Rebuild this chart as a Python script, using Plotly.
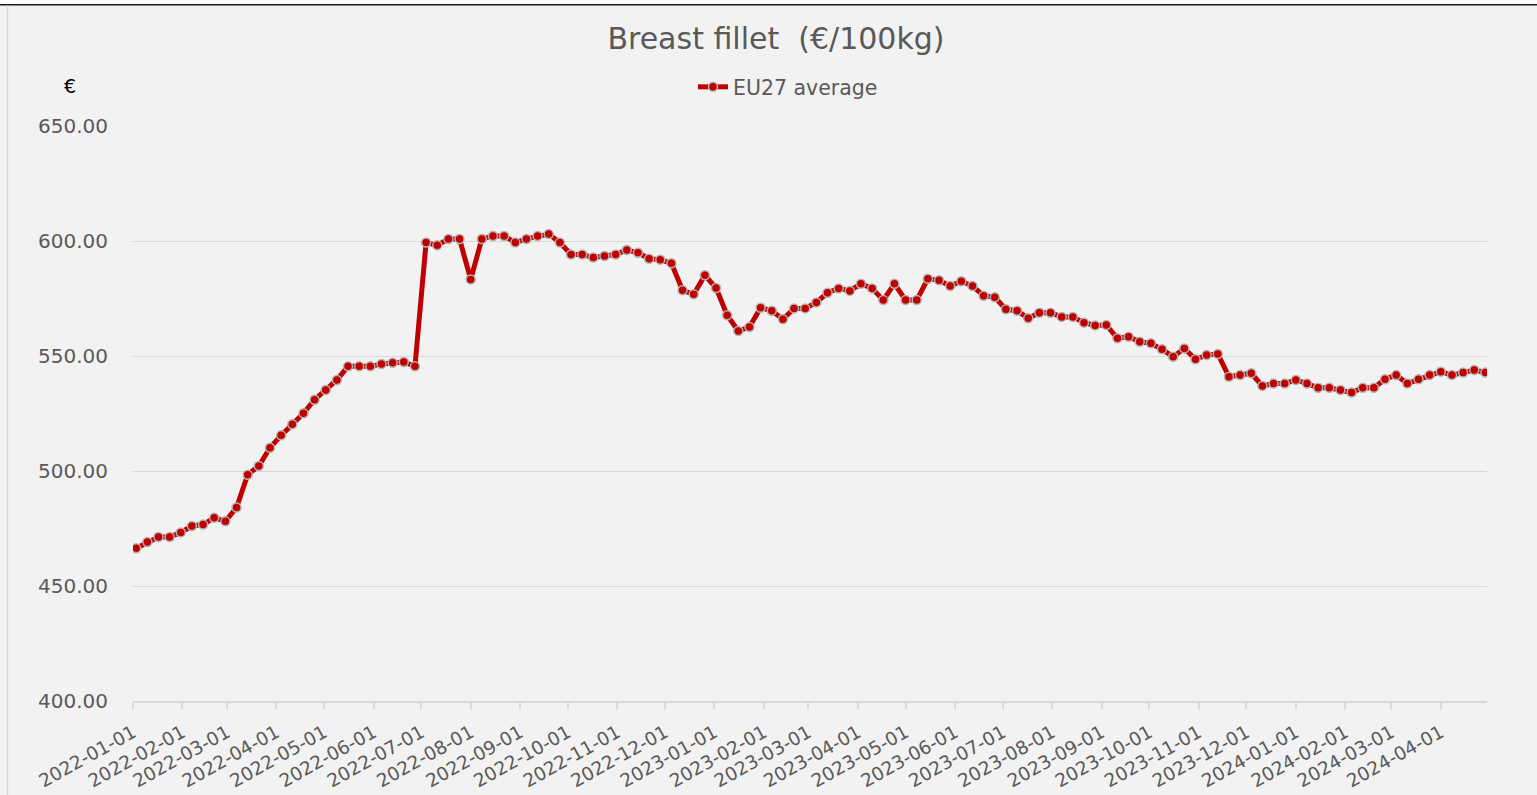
import pandas as pd
import plotly.graph_objects as go

# ---- data ----
week_start = "2022-01-03"
n_weeks = 122
eu27_average = [
    466.4, 469.1, 471.3, 471.3, 473.3, 476.1, 476.7, 479.7, 478.1, 484.1,
    498.4, 502.2, 510.1, 515.5, 520.3, 525.1, 531.0, 535.2, 539.6, 545.5,
    545.5, 545.5, 546.5, 547.1, 547.4, 545.5, 599.3, 598.1, 600.9, 600.9,
    583.3, 600.9, 602.2, 602.2, 599.3, 600.9, 602.2, 603.0, 599.3, 594.1,
    594.1, 592.8, 593.5, 594.1, 596.1, 594.9, 592.3, 591.9, 590.3, 578.6,
    576.8, 585.1, 579.6, 567.7, 560.9, 562.6, 571.0, 569.7, 566.0, 570.7,
    570.7, 573.3, 577.5, 579.4, 578.3, 581.4, 579.4, 574.3, 581.4, 574.3,
    574.3, 583.6, 582.9, 580.4, 582.5, 580.4, 576.2, 575.5, 570.3, 569.7,
    566.4, 568.8, 568.8, 567.0, 567.0, 564.5, 563.3, 563.5, 557.7, 558.4,
    556.2, 555.5, 552.9, 549.7, 553.3, 548.6, 550.4, 550.9, 541.0, 541.7,
    542.5, 537.0, 538.0, 538.0, 539.6, 538.0, 536.2, 536.2, 535.2, 534.1,
    536.2, 536.2, 539.9, 541.7, 538.0, 539.9, 541.7, 543.2, 541.7, 542.8,
    543.9, 542.8,
]
weeks = pd.date_range(week_start, periods=n_weeks, freq="7D")

month_ticks = [
    "2022-01-01", "2022-02-01", "2022-03-01", "2022-04-01", "2022-05-01",
    "2022-06-01", "2022-07-01", "2022-08-01", "2022-09-01", "2022-10-01",
    "2022-11-01", "2022-12-01", "2023-01-01", "2023-02-01", "2023-03-01",
    "2023-04-01", "2023-05-01", "2023-06-01", "2023-07-01", "2023-08-01",
    "2023-09-01", "2023-10-01", "2023-11-01", "2023-12-01", "2024-01-01",
    "2024-02-01", "2024-03-01", "2024-04-01",
]
y_ticks = [400, 450, 500, 550, 600, 650]

# ---- layout constants ----
W, H = 1537, 795
ML, MR, MT, MB = 133, 50, 126, 94
PW, PH = W - ML - MR, H - MT - MB


def px_x(x):
    return (x - ML) / PW


def px_y(y):
    return (H - MB - y) / PH


RED = "#C00000"
GRID = "#D9D9D9"
TXT = "#595959"
FONT = "DejaVu Sans"

fig = go.Figure()
fig.add_trace(go.Scatter(
    x=weeks, y=eu27_average, name="EU27 average",
    mode="lines+markers",
    line=dict(color=RED, width=5),
    marker=dict(symbol="circle", size=9, color=RED,
                line=dict(color="#B4B4B4", width=1.5)),
))

fig.update_layout(
    width=W, height=H,
    margin=dict(l=ML, r=MR, t=MT, b=MB, autoexpand=False),
    paper_bgcolor="#F2F2F2", plot_bgcolor="#F2F2F2",
    font=dict(family=FONT, color=TXT),
    title=dict(text="Breast fillet  (€/100kg)", x=776 / W, xanchor="center",
               xref="container", y=1 - 38 / H, yanchor="middle", yref="container",
               font=dict(size=30, color=TXT, family=FONT)),
    showlegend=True,
    legend=dict(orientation="h", x=px_x(788), xanchor="center",
                y=px_y(87), yanchor="middle", bgcolor="rgba(0,0,0,0)",
                font=dict(size=20.5, color=TXT, family=FONT), itemwidth=30),
    hovermode=False,
)

fig.update_xaxes(
    type="date", range=["2022-01-01", "2024-04-30"],
    tickmode="array", tickvals=month_ticks, ticktext=month_ticks,
    tickangle=-29, tickfont=dict(size=18.5, color=TXT, family=FONT),
    showgrid=False, showline=True, linecolor=GRID, linewidth=1.5,
    ticks="outside", ticklen=6, tickcolor=GRID, tickwidth=1.5,
    ticklabelstandoff=6,
    zeroline=False, fixedrange=True,
)
fig.update_yaxes(
    range=[400, 650], tickmode="array", tickvals=y_ticks, tickformat=".2f",
    tickfont=dict(size=20, color=TXT, family=FONT),
    showgrid=True, gridcolor=GRID, gridwidth=1,
    showline=False, zeroline=False, ticks="", ticklabelstandoff=24,
    fixedrange=True,
)

# euro unit label
fig.add_annotation(text="€", xref="paper", yref="paper", x=px_x(70), y=px_y(86),
                   showarrow=False, xanchor="center", yanchor="middle",
                   font=dict(size=19, color="#000000", family=FONT))

# chart frame details: top dark rule, left light rule
fig.add_shape(type="rect", xref="paper", yref="paper",
              x0=px_x(0), x1=px_x(W), y0=px_y(4), y1=px_y(0),
              fillcolor="#FFFFFF", line=dict(width=0), layer="below")
fig.add_shape(type="line", xref="paper", yref="paper",
              x0=px_x(0), x1=px_x(W), y0=px_y(4.8), y1=px_y(4.8),
              line=dict(color="#1A1A1A", width=1.6))
fig.add_shape(type="line", xref="paper", yref="paper",
              x0=px_x(7.5), x1=px_x(7.5), y0=px_y(5.5), y1=px_y(H),
              line=dict(color=GRID, width=1.5))

fig.write_html("out.html",
               config={"displayModeBar": False},
               post_script="document.body.style.margin='0px';"
                           "document.body.style.overflow='hidden';")
